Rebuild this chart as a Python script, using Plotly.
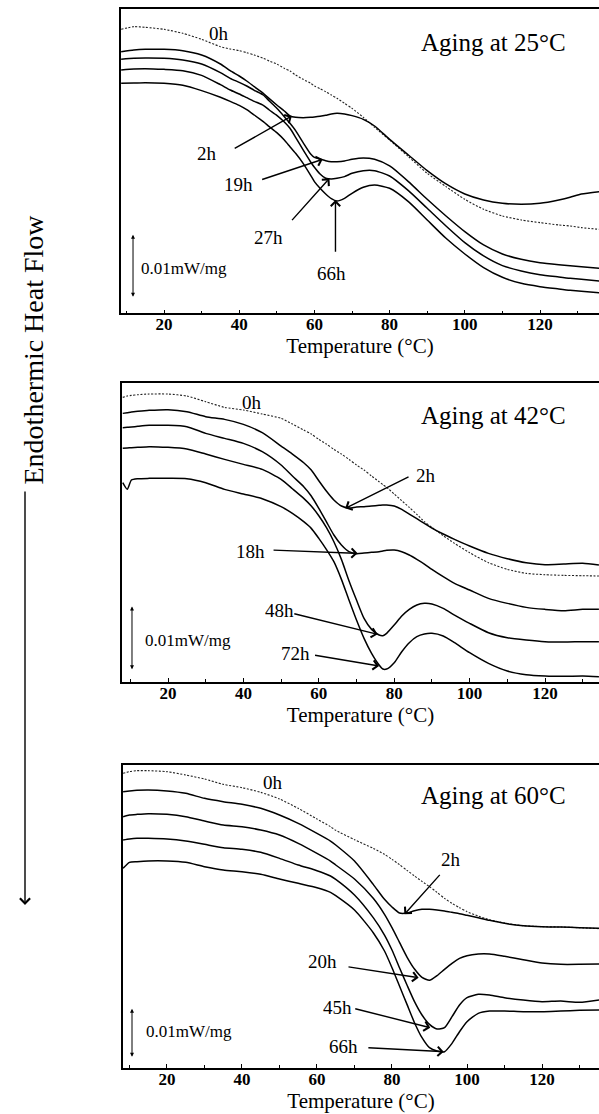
import plotly.graph_objects as go

# ---------------- data (heat flow in arbitrary units, endothermic = larger) -------------
# Panel 1: aging at 25 C
T25 = [8.6, 12, 15, 20, 25, 30, 35, 37.6, 40, 42, 44, 46.4, 48, 50, 52, 53.5, 55, 57, 59, 60,
       61.5, 63, 64.5, 66, 68, 70, 73, 76, 80, 85, 90, 95, 100, 105, 110, 115, 120, 125, 128, 131, 135.7]
a25_0h = [88, 80, 82, 88, 100, 118, 140, 147, 152, 158, 165, 175, 183, 192, 205, 213, 225, 238, 250, 258,
          266, 275, 285, 295, 310, 325, 352, 382, 420, 470, 520, 560, 598, 628, 648, 660, 668, 675, 678, 683, 688]
a25_2h = [155, 150, 148, 148, 152, 165, 192, 212, 228, 243, 260, 280, 296, 315, 333, 348, 352, 353, 352, 351,
          349, 346, 342, 340, 342, 347, 358, 378, 418, 465, 512, 552, 582, 600, 610, 613, 610, 600, 592, 582, 575]
a25_19h = [178, 175, 174, 175, 180, 192, 218, 235, 247, 258, 271, 285, 303, 325, 350, 370, 392, 428, 462, 472,
           477, 482, 485, 485, 483, 478, 474, 478, 498, 545, 598, 648, 695, 735, 762, 778, 788, 794, 797, 800, 805]
a25_27h = [210, 207, 206, 208, 212, 226, 254, 270, 282, 293, 304, 316, 330, 346, 366, 385, 412, 450, 486, 502,
           522, 535, 537, 535, 530, 520, 512, 512, 528, 572, 625, 678, 728, 768, 797, 813, 824, 831, 835, 838, 843]
a25_66h = [250, 249, 248, 250, 256, 272, 292, 304, 316, 329, 345, 365, 380, 398, 420, 440, 460, 490, 526, 545,
           565, 582, 596, 603, 595, 580, 562, 555, 565, 605, 660, 715, 762, 803, 832, 850, 860, 867, 871, 874, 878]

# Panel 2: aging at 42 C
T42 = [8, 9.2, 10.3, 12, 15, 20, 25, 30, 35, 40, 45, 50, 53, 56, 58, 60, 62, 64, 66, 68, 70,
       72, 74, 76, 77, 78, 80, 82, 84, 86, 88, 90, 93, 96, 100, 105, 110, 115, 120, 125, 130, 134.3]
a42_0h = [82, 78, 76, 74, 72, 72, 78, 95, 112, 120, 132, 145, 162, 180, 192, 208, 222, 238, 252, 268, 285,
          300, 318, 335, 344, 352, 372, 392, 412, 433, 455, 472, 497, 520, 548, 578, 598, 610, 614, 616, 617, 618]
a42_2h = [130, 128, 126, 124, 121, 119, 125, 140, 148, 163, 188, 228, 252, 278, 300, 332, 363, 390, 408, 414, 411,
          410, 408, 406, 405, 405, 408, 418, 432, 446, 460, 474, 492, 508, 528, 550, 566, 578, 584, 582, 580, 585]
a42_18h = [173, 172, 171, 169, 166, 166, 170, 190, 205, 220, 245, 285, 318, 350, 378, 415, 455, 495, 525, 545, 551,
           549, 547, 545, 543, 541, 540, 545, 555, 568, 582, 598, 620, 640, 660, 685, 700, 712, 718, 722, 718, 718]
a42_48h = [235, 234, 233, 232, 230, 232, 237, 252, 268, 283, 298, 328, 356, 385, 408, 437, 472, 515, 568, 632, 690,
           745, 778, 795, 797, 790, 765, 738, 718, 705, 700, 702, 715, 735, 760, 788, 803, 810, 815, 816, 815, 815]
a42_72h = [338, 358, 330, 326, 325, 325, 326, 338, 358, 372, 386, 410, 430, 455, 475, 505, 538, 575, 628, 690, 750,
           805, 850, 885, 897, 897, 878, 845, 818, 800, 792, 790, 798, 818, 848, 880, 903, 914, 918, 919, 918, 920]

# Panel 3: aging at 60 C
T60 = [8.3, 10, 12, 15, 20, 25, 30, 35, 40, 45, 50, 55, 60, 63.6, 65, 70, 75, 78, 80, 82, 84, 86, 88,
       90, 92, 94, 96, 98, 100, 103, 106, 110, 115, 120, 125, 130, 135.2]
a60_0h = [55, 50, 47, 47, 50, 60, 72, 88, 98, 112, 132, 160, 192, 215, 226, 254, 280, 298, 313, 329, 346, 363, 379,
          395, 412, 430, 445, 458, 470, 483, 494, 504, 512, 515, 516, 518, 521]
a60_2h = [110, 108, 106, 105, 108, 115, 130, 140, 148, 160, 180, 205, 235, 258, 270, 318, 388, 433, 456, 474, 474, 467, 463,
          463, 465, 468, 472, 476, 481, 488, 496, 505, 512, 515, 516, 518, 520]
a60_20h = [185, 180, 178, 176, 178, 185, 198, 210, 215, 225, 240, 265, 295, 318, 330, 372, 430, 478, 518, 562, 606, 642, 667,
           676, 662, 643, 625, 610, 602, 597, 597, 604, 614, 624, 628, 628, 627]
a60_45h = [255, 252, 250, 250, 252, 258, 268, 278, 283, 292, 310, 330, 347, 363, 373, 420, 488, 540, 585, 638, 690, 740, 780,
           808, 822, 818, 785, 750, 728, 718, 720, 728, 735, 740, 738, 742, 735]
a60_66h = [340, 322, 320, 318, 318, 322, 335, 345, 350, 358, 372, 385, 398, 412, 422, 465, 533, 588, 638, 693, 748, 803, 848,
           878, 888, 890, 865, 830, 800, 775, 768, 768, 770, 770, 768, 766, 765]

XTICKS = [20, 40, 60, 80, 100, 120]
SCALE_BAR = "0.01mW/mg"

panels = [
    dict(T=T25, series=[("0h", a25_0h), ("2h", a25_2h), ("19h", a25_19h), ("27h", a25_27h), ("66h", a25_66h)],
         title="Aging at 25°C", xr=[8.56, 135.69], yr=[940, 27], xd=[121 / 599, 1], yd=[1 - 313.3 / 1114, 1 - 9 / 1114]),
    dict(T=T42, series=[("0h", a42_0h), ("2h", a42_2h), ("18h", a42_18h), ("48h", a42_48h), ("72h", a42_72h)],
         title="Aging at 42°C", xr=[7.80, 134.32], yr=[935, 38], xd=[122 / 599, 1], yd=[1 - 681.7 / 1114, 1 - 382.7 / 1114]),
    dict(T=T60, series=[("0h", a60_0h), ("2h", a60_2h), ("20h", a60_20h), ("45h", a60_45h), ("66h", a60_66h)],
         title="Aging at 60°C", xr=[8.27, 135.2], yr=[938, 30], xd=[123 / 599, 1], yd=[1 - 1067.7 / 1114, 1 - 765 / 1114]),
]

# label positions (T, a.u.) and arrows (tip T, tip y, tail T, tail y)
labels = [
    [("0h", 34.6, 100), ("2h", 31.5, 462), ("19h", 39.8, 555), ("27h", 47.9, 712), ("66h", 64.5, 820)],
    [("0h", 42.3, 97), ("2h", 88.5, 315), ("18h", 41.8, 545), ("48h", 49.5, 720), ("72h", 53.7, 850)],
    [("0h", 48.4, 82), ("2h", 95.7, 312), ("20h", 61.6, 620), ("45h", 65.5, 757), ("66h", 67.1, 873)],
]
arrows = [
    [(54.0, 348, 38.4, 448), (62.2, 478, 45.7, 540), (64.0, 535, 53.7, 665), (65.6, 600, 65.6, 760)],
    [(67.0, 415, 84.2, 318), (70.3, 550, 47.6, 540), (75.6, 793, 53.1, 730), (76.0, 888, 58.6, 855)],
    [(83.3, 478, 93.1, 355), (87.1, 668, 68.0, 635), (90.2, 818, 69.8, 760), (93.8, 890, 73.3, 878)],
]
titlepos = [(107.6, 128), (106.3, 135), (107.1, 120)]
scalebars = [(11.76, 700, 890, 13.35, 805), (10.45, 705, 898, 13.37, 810), (10.67, 757, 905, 13.87, 830)]

FONT = "Liberation Serif"
fig = go.Figure()
annotations = []

for i, p in enumerate(panels):
    n = "" if i == 0 else str(i + 1)
    xa, ya = "x" + n, "y" + n
    for name, vals in p["series"]:
        dotted = name == "0h"
        fig.add_trace(go.Scatter(
            x=p["T"], y=vals, mode="lines", name=name, xaxis=xa, yaxis=ya, showlegend=False,
            line=dict(color="#222" if dotted else "black", width=1.1 if dotted else 1.5,
                      dash="2px,1.6px" if dotted else "solid", shape="spline", smoothing=0.6),
            hoverinfo="x+name"))
    fig.layout["xaxis" + n] = dict(
        domain=p["xd"], range=p["xr"], anchor=ya, tickvals=XTICKS, ticks="inside", ticklen=4,
        tickwidth=1, tickcolor="black", showline=True, linecolor="black", linewidth=1.5, mirror=True,
        showgrid=False, zeroline=False, ticklabelstandoff=-5,
        minor=dict(dtick=10, tick0=0, ticks="inside", ticklen=3, tickcolor="black"),
        tickfont=dict(family=FONT, size=17, color="black", weight="bold"),
        title=dict(text="Temperature (°C)", font=dict(family=FONT, size=21, color="black"), standoff=0))
    fig.layout["yaxis" + n] = dict(
        domain=p["yd"], range=p["yr"], anchor=xa, showline=True, linecolor="black", linewidth=1.5,
        showticklabels=False, ticks="", showgrid=False, zeroline=False)

    for text, tx, ty in labels[i]:
        annotations.append(dict(x=tx, y=ty, xref=xa, yref=ya, text=text, showarrow=False,
                                font=dict(family=FONT, size=19, color="black")))
    for hx, hy, sx, sy in arrows[i]:
        annotations.append(dict(x=hx, y=hy, ax=sx, ay=sy, xref=xa, yref=ya, axref=xa, ayref=ya, text="",
                                showarrow=True, arrowhead=4, arrowsize=1.3, arrowwidth=1.4, arrowcolor="black"))
    tx, ty = titlepos[i]
    annotations.append(dict(x=tx, y=ty, xref=xa, yref=ya, text=p["title"], showarrow=False,
                            font=dict(family=FONT, size=25, color="black")))
    bx, b0, b1, lx, ly = scalebars[i]
    annotations.append(dict(x=bx, y=b1, ax=bx, ay=b0, xref=xa, yref=ya, axref=xa, ayref=ya, text="",
                            showarrow=True, arrowhead=2, startarrowhead=2, arrowside="end+start",
                            arrowsize=0.8, startarrowsize=0.8, arrowwidth=1, arrowcolor="black"))
    annotations.append(dict(x=lx, y=ly, xref=xa, yref=ya, text=SCALE_BAR, showarrow=False, xanchor="left",
                            font=dict(family=FONT, size=17, color="black")))

# overall y label and long downward arrow
annotations.append(dict(x=33.5 / 599, y=1 - 350 / 1114, xref="paper", yref="paper", text="Endothermic Heat Flow",
                        textangle=-90, xanchor="center", yanchor="middle", showarrow=False,
                        font=dict(family=FONT, size=28, color="black")))
annotations.append(dict(x=25 / 599, y=1 - 905 / 1114, xref="paper", yref="paper", ax=0, ay=-415, text="",
                        showarrow=True, arrowhead=4, arrowsize=1.4, arrowwidth=1.4, arrowcolor="black"))

fig.update_layout(width=599, height=1114, margin=dict(l=0, r=0, t=0, b=0), paper_bgcolor="white",
                  plot_bgcolor="white", annotations=annotations, font=dict(family=FONT, color="black"))
fig.write_html("out.html")
